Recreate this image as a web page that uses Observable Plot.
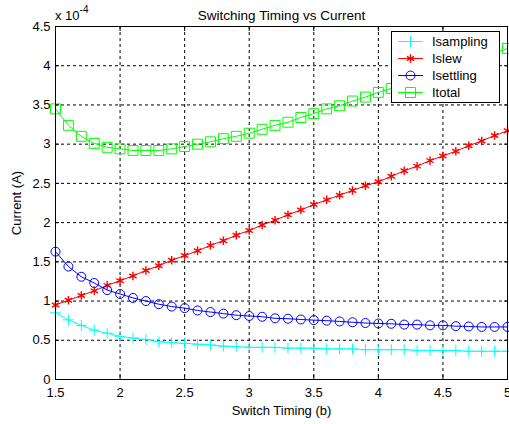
<!DOCTYPE html>
<html>
<head>
<meta charset="utf-8">
<script src="https://cdn.jsdelivr.net/npm/d3@7"></script>
<script src="https://cdn.jsdelivr.net/npm/@observablehq/plot@0.6"></script>
<style>
  html, body { margin: 0; padding: 0; background: #fff; }
  #wrap { position: relative; width: 509px; height: 424px; font-family: "Liberation Sans", Arial, sans-serif; }
  #exp { position: absolute; left: 55px; top: 7px; font-size: 13px; color: #000; line-height: 1; }
  #exp sup { font-size: 10px; position: relative; top: -2px; }
  #legend { position: absolute; left: 391px; top: 31px; }
</style>
</head>
<body>
<div id="wrap">
  <div id="chart"></div>
  <div id="exp">x 10<sup>-4</sup></div>
  <div id="legend"></div>
</div>
<script>
// Switch timing (b)
const timing = [1.5,1.6,1.7,1.8,1.9,2.0,2.1,2.2,2.3,2.4,2.5,2.6,2.7,2.8,2.9,3.0,3.1,3.2,3.3,3.4,3.5,3.6,3.7,3.8,3.9,4.0,4.1,4.2,4.3,4.4,4.5,4.6,4.7,4.8,4.9,5.0];
// Currents, in units of 1e-4 A
const isampling = [0.85,0.76,0.69,0.63,0.59,0.55,0.53,0.51,0.48,0.47,0.46,0.45,0.44,0.425,0.42,0.41,0.41,0.41,0.40,0.40,0.40,0.39,0.39,0.39,0.38,0.38,0.38,0.38,0.37,0.37,0.37,0.37,0.36,0.36,0.36,0.36];
const islew = [0.95,1.01,1.07,1.13,1.20,1.26,1.32,1.39,1.45,1.52,1.58,1.64,1.71,1.77,1.84,1.90,1.97,2.03,2.10,2.16,2.23,2.29,2.35,2.41,2.47,2.52,2.59,2.66,2.72,2.79,2.85,2.91,2.98,3.04,3.11,3.17];
const isettling = [1.63,1.44,1.31,1.23,1.14,1.09,1.04,1.00,0.96,0.93,0.91,0.88,0.86,0.84,0.82,0.81,0.80,0.78,0.775,0.765,0.757,0.75,0.74,0.73,0.72,0.714,0.71,0.70,0.70,0.69,0.69,0.68,0.676,0.67,0.67,0.67];
const itotal = [3.45,3.24,3.10,3.01,2.96,2.94,2.92,2.92,2.92,2.94,2.97,3.00,3.03,3.07,3.10,3.14,3.19,3.24,3.28,3.34,3.39,3.45,3.49,3.55,3.60,3.66,3.71,3.77,3.82,3.88,3.94,4.00,4.05,4.11,4.16,4.22];

const seriesNames = ["Isampling","Islew","Isettling","Itotal"];
const seriesColors = ["#00ffff","#ff0000","#0000ff","#00ff00"];
const seriesSymbols = ["plus","asterisk","circle","square"];
const seriesR = [3.6, 4, 4.5, 5.6];
const seriesStrokeW = [1, 1.4, 1, 1];
const seriesValues = [isampling, islew, isettling, itotal];

const xTicks = [1.5,2,2.5,3,3.5,4,4.5,5];
const yTicks = [0,0.5,1,1.5,2,2.5,3,3.5,4,4.5];
const titleText = "Switching Timing vs Current";
const xLabel = "Switch Timing (b)";
const yLabel = "Current (A)";

const fmt = d => String(d);

const seriesMarks = seriesNames.flatMap((name, k) => {
  const rows = timing.map((t, i) => ({t, v: seriesValues[k][i]}));
  return [
    Plot.line(rows, {x: "t", y: "v", stroke: seriesColors[k], strokeWidth: 1}),
    Plot.dot(rows, {x: "t", y: "v", stroke: seriesColors[k], symbol: seriesSymbols[k], r: seriesR[k], strokeWidth: seriesStrokeW[k], fill: "none"})
  ];
});

const chart = Plot.plot({
  width: 509,
  height: 424,
  marginLeft: 55,
  marginRight: 2,
  marginTop: 26,
  marginBottom: 45,
  style: {fontFamily: "'Liberation Sans', Arial, sans-serif", fontSize: "13px", background: "#fff", color: "#000"},
  x: {domain: [1.5, 5]},
  y: {domain: [0, 4.5]},
  marks: [
    Plot.gridX({ticks: xTicks, stroke: "#000", strokeOpacity: 1, strokeDasharray: "3,3"}),
    Plot.gridY({ticks: yTicks, stroke: "#000", strokeOpacity: 1, strokeDasharray: "3,3"}),
    ...seriesMarks,
    Plot.axisX({anchor: "bottom", ticks: xTicks, tickSize: 0, tickPadding: 8, tickFormat: fmt, fontSize: 13,
      label: xLabel, labelAnchor: "center", labelOffset: 35, labelArrow: "none"}),
    Plot.axisY({anchor: "left", ticks: yTicks, tickSize: 0, tickPadding: 5, tickFormat: fmt, fontSize: 13,
      label: yLabel, labelAnchor: "center", labelOffset: 44, labelArrow: "none"}),
    Plot.axisX({anchor: "bottom", ticks: xTicks, tickSize: 4, text: null, label: null, dy: -4}),
    Plot.axisX({anchor: "top", ticks: xTicks, tickSize: 4, text: null, label: null, dy: 4}),
    Plot.axisY({anchor: "left", ticks: yTicks, tickSize: 4, text: null, label: null, dx: 4}),
    Plot.axisY({anchor: "right", ticks: yTicks, tickSize: 4, text: null, label: null, dx: -4}),
    Plot.frame({stroke: "#000", strokeWidth: 1}),
    Plot.text([titleText], {frameAnchor: "top", dy: -16, fontSize: 13.5, fill: "#000"})
  ]
});
document.getElementById("chart").appendChild(chart);

// Legend (drawn over the plot, like MATLAB's)
const lw = 109, lh = 72;
const lsvg = d3.select("#legend").append("svg").attr("width", lw).attr("height", lh)
  .style("font-family", "'Liberation Sans', Arial, sans-serif").style("font-size", "13px").style("overflow", "visible");
lsvg.append("rect").attr("x", 0.5).attr("y", 0.5).attr("width", lw - 1).attr("height", lh - 1)
  .attr("fill", "#fff").attr("stroke", "#000");
const symMap = {plus: d3.symbolPlus, asterisk: d3.symbolAsterisk, circle: d3.symbolCircle, square: d3.symbolSquare};
seriesNames.forEach((name, k) => {
  const g = lsvg.append("g").attr("transform", `translate(0,${10.5 + k * 17})`);
  g.append("line").attr("x1", 7).attr("x2", 32).attr("stroke", seriesColors[k]);
  g.append("path").attr("transform", "translate(19.5,0)")
    .attr("d", d3.symbol(symMap[seriesSymbols[k]], Math.PI * seriesR[k] * seriesR[k])())
    .attr("fill", "none").attr("stroke", seriesColors[k]).attr("stroke-width", seriesStrokeW[k]);
  g.append("text").attr("x", 41).attr("dy", "0.35em").text(name);
});
</script>
</body>
</html>
